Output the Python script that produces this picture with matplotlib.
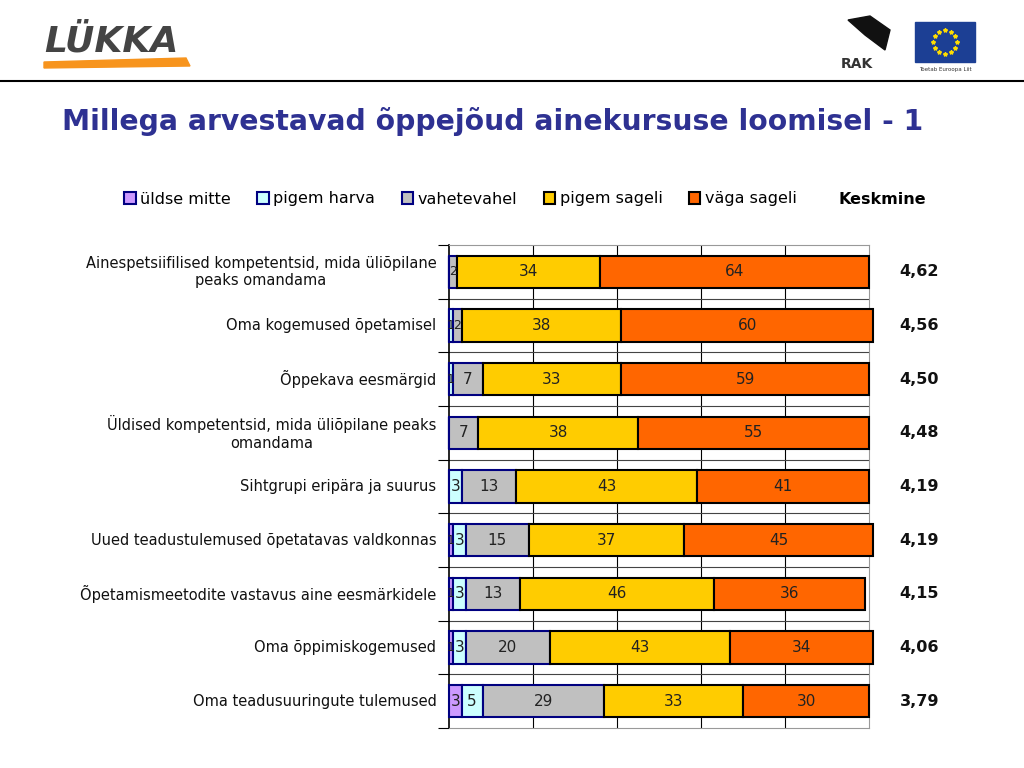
import numpy as np
import matplotlib.pyplot as plt
from matplotlib.patches import Rectangle, Polygon

categories = [
    "Ainespetsiifilised kompetentsid, mida üliõpilane\npeaks omandama",
    "Oma kogemused õpetamisel",
    "Õppekava eesmärgid",
    "Üldised kompetentsid, mida üliõpilane peaks\nomandama",
    "Sihtgrupi eripära ja suurus",
    "Uued teadustulemused õpetatavas valdkonnas",
    "Õpetamismeetodite vastavus aine eesmärkidele",
    "Oma õppimiskogemused",
    "Oma teadusuuringute tulemused",
]
series_names = ["üldse mitte", "pigem harva", "vahetevahel", "pigem sageli", "väga sageli"]
uldse_mitte = [0, 0, 0, 0, 0, 1, 1, 1, 3]
pigem_harva = [0, 1, 1, 0, 3, 3, 3, 3, 5]
vahetevahel = [2, 2, 7, 7, 13, 15, 13, 20, 29]
pigem_sageli = [34, 38, 33, 38, 43, 37, 46, 43, 33]
vaga_sageli = [64, 60, 59, 55, 41, 45, 36, 34, 30]
keskmine = ["4,62", "4,56", "4,50", "4,48", "4,19", "4,19", "4,15", "4,06", "3,79"]

colors = ["#CC99FF", "#CCFFFF", "#C0C0C0", "#FFCC00", "#FF6600"]
edges = ["#000080", "#000080", "#000080", "#000000", "#000000"]
title_color = "#2E3192"

fig = plt.figure(figsize=(10.24, 7.68), dpi=100)
ax = fig.add_axes([449 / 1024, 1 - 728 / 768, 420 / 1024, 483 / 768])

y = np.arange(len(categories))
left = np.zeros(len(categories))
data = [uldse_mitte, pigem_harva, vahetevahel, pigem_sageli, vaga_sageli]
handles = []
for vals, name, c, ec in zip(data, series_names, colors, edges):
    vals = np.array(vals, dtype=float)
    bars = ax.barh(y, vals, left=left, height=0.6, color=c, edgecolor=ec,
                   linewidth=1.5, label=name, clip_on=False, zorder=3)
    handles.append(bars)
    for yi, l, v in zip(y, left, vals):
        if v > 0:
            fs = 11 if v >= 3 else 9
            ax.text(l + v / 2, yi, f"{int(v)}", ha="center", va="center",
                    fontsize=fs, color="#222222", zorder=4)
    left += vals

ax.set_xlim(0, 100)
ax.set_ylim(len(categories) - 0.5, -0.5)
for gx in [20, 40, 60, 80]:
    ax.axvline(gx, color="black", linewidth=0.8, zorder=1)
for gy in np.arange(0.5, len(categories) - 0.5, 1):
    ax.axhline(gy, color="#444444", linewidth=0.8, zorder=1)

ax.set_xticks([])
ax.set_yticks(np.arange(-0.5, len(categories), 1))
ax.set_yticklabels([])
ax.tick_params(axis="y", direction="out", length=8, width=0.8)
for yi, cat in zip(y, categories):
    ax.text(-3, yi, cat, ha="right", va="center", multialignment="center",
            fontsize=10.5, color="#111111")
    ax.text(112, yi, keskmine[yi], ha="center", va="center",
            fontsize=11.5, fontweight="bold", color="#111111")
for side in ["top", "right", "bottom"]:
    ax.spines[side].set_color("#999999")
ax.spines["left"].set_color("black")
ax.spines["left"].set_linewidth(1.2)

fig.legend(handles=handles, labels=series_names, loc="center left",
           bbox_to_anchor=(110 / 1024, 1 - 199 / 768), ncol=5, frameon=False,
           handlelength=0.7, handleheight=0.7, handletextpad=0.3,
           columnspacing=1.65, fontsize=11.5)
fig.text(838 / 1024, 1 - 199 / 768, "Keskmine", ha="left", va="center",
         fontsize=11.5, fontweight="bold")

fig.text(62 / 1024, 1 - 122 / 768, "Millega arvestavad õppejõud ainekursuse loomisel - 1",
         ha="left", va="center", fontsize=20.3, fontweight="bold", color=title_color)

# header
fig.add_artist(plt.Line2D([0, 1], [1 - 81 / 768, 1 - 81 / 768], color="black", linewidth=1.5))
fig.text(44 / 1024, 1 - 42 / 768, "LÜKKA", ha="left", va="center", fontsize=26,
         fontweight="bold", fontstyle="italic", color="#444444")
fig.add_artist(Polygon([[44 / 1024, 1 - 62 / 768], [186 / 1024, 1 - 58 / 768],
                        [190 / 1024, 1 - 66 / 768], [44 / 1024, 1 - 68 / 768]],
                       closed=True, transform=fig.transFigure, color="#F7941D"))
fig.text(857 / 1024, 1 - 64 / 768, "RAK", ha="center", va="center", fontsize=10,
         fontweight="bold", color="#333333")
fig.add_artist(Polygon([[848 / 1024, 1 - 20 / 768], [870 / 1024, 1 - 16 / 768],
                        [890 / 1024, 1 - 30 / 768], [885 / 1024, 1 - 50 / 768],
                        [865 / 1024, 1 - 35 / 768]],
                       closed=True, transform=fig.transFigure, color="#111111"))
fig.add_artist(Rectangle((915 / 1024, 1 - 62 / 768), 60 / 1024, 40 / 768,
                         transform=fig.transFigure, color="#1C3F94"))
th = np.linspace(0, 2 * np.pi, 13)[:-1]
fig.add_artist(plt.Line2D(945 / 1024 + 12 / 1024 * np.cos(th), 1 - 42 / 768 + 12 / 768 * np.sin(th),
                          linestyle="none", marker="*", markersize=3, color="#FFDD00",
                          transform=fig.transFigure))
fig.text(945 / 1024, 1 - 70 / 768, "Toetab Euroopa Liit", ha="center", va="center",
         fontsize=4, color="#333333")

fig.savefig("out.png", dpi=100)
